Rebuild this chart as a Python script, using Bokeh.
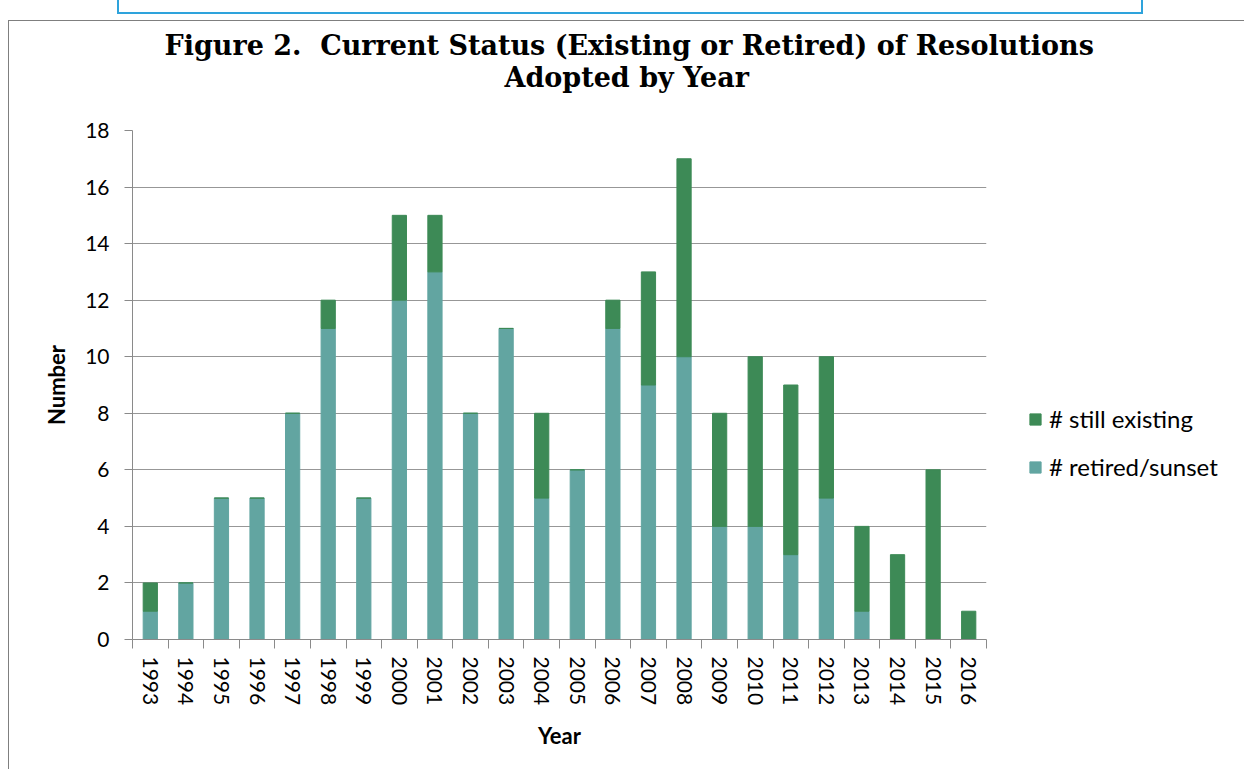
from bokeh.plotting import figure
from bokeh.models import FixedTicker, Legend, LegendItem, Title, ColumnDataSource
from bokeh.embed import file_html
from bokeh.resources import INLINE

# ---- data ----
years = [str(y) for y in range(1993, 2017)]
retired = [1, 2, 5, 5, 8, 11, 5, 12, 13, 8, 11, 5, 6, 11, 9, 10, 4, 4, 3, 5, 1, 0, 0, 0]
existing = [1, 0, 0, 0, 0, 1, 0, 3, 2, 0, 0, 3, 0, 1, 4, 7, 4, 6, 6, 5, 3, 3, 6, 1]
y_ticks = [0, 2, 4, 6, 8, 10, 12, 14, 16, 18]
series_names = ["# still existing", "# retired/sunset"]
title_lines = ["Figure 2.\u00a0 Current Status (Existing or Retired) of Resolutions",
               "Adopted by Year"]
x_title = "Year"
y_title = "Number"

GREEN = "#3d8a56"
TEAL = "#62a5a1"
GRID = "#979797"
AXIS = "#8a8a8a"
SANS = "Lato"

x_pos = list(range(len(years)))
source = ColumnDataSource(dict(x=x_pos, retired=retired, existing=existing))

box_css = """
:host { position: relative; }
:host::before {
  content: ""; position: absolute; left: 108px; top: -21px;
  width: 1022px; height: 12px;
  border: 2px solid #2ea3dc; border-top: none;
}
"""

p = figure(frame_width=854, frame_height=509, x_range=(-0.5, len(years) - 0.5), y_range=(0, 18),
           output_backend="svg", toolbar_location=None,
           min_border_left=123, min_border_right=250, min_border_top=109, min_border_bottom=130,
           outline_line_color=None, margin=(20, 0, 0, 8),
           styles={"border-left": "1px solid #7f7f7f", "border-top": "1px solid #7f7f7f"},
           stylesheets=[box_css])

rs = p.vbar_stack(["retired", "existing"], x="x", width=0.4, color=[TEAL, GREEN], source=source)

# grid
p.xgrid.visible = False
p.ygrid.grid_line_color = GRID
p.ygrid.grid_line_width = 1

# x axis
xa = p.xaxis[0]
xa.ticker = FixedTicker(ticks=x_pos, minor_ticks=[i - 0.5 for i in range(len(years) + 1)])
xa.major_label_overrides = {i: years[i] for i in x_pos}
xa.major_label_orientation = "vertical"
xa.major_tick_line_color = None
xa.major_tick_out = 9
xa.major_tick_in = 0
xa.minor_tick_out = 9
xa.minor_tick_in = 0
xa.minor_tick_line_color = AXIS
xa.axis_line_color = AXIS
xa.major_label_standoff = 8
xa.major_label_text_font = SANS
xa.major_label_text_font_size = "21px"
xa.major_label_text_color = "#000000"
xa.axis_label = x_title
xa.axis_label_text_font = SANS
xa.axis_label_text_font_size = "22px"
xa.axis_label_text_font_style = "bold"
xa.axis_label_text_color = "#000000"
xa.axis_label_standoff = 14

# y axis
ya = p.yaxis[0]
ya.ticker = FixedTicker(ticks=y_ticks)
ya.major_tick_out = 8
ya.major_tick_in = 0
ya.major_tick_line_color = AXIS
ya.minor_tick_line_color = None
ya.axis_line_color = AXIS
ya.major_label_standoff = 15
ya.major_label_text_font = SANS
ya.major_label_text_font_size = "21px"
ya.major_label_text_color = "#000000"
ya.axis_label = y_title
ya.axis_label_text_font = SANS
ya.axis_label_text_font_size = "22px"
ya.axis_label_text_font_style = "bold"
ya.axis_label_text_color = "#000000"
ya.axis_label_standoff = 12

# title: two lines, left aligned with pixel offsets so they sit as in the reference;
# the trailing empty line under the second line leaves the gap above the plot area
title_offsets = [32, 372]
title_standoffs = [0, 0]
title_texts = [title_lines[0], title_lines[1] + "\n"]
for line, off, so in zip(reversed(title_texts), reversed(title_offsets), reversed(title_standoffs)):
    p.add_layout(Title(text=line, align="left", offset=off,
                       text_font="DejaVu Serif", text_font_size="27px",
                       text_line_height=1.2,
                       text_font_style="bold", text_color="#000000", standoff=so), "above")

legend = Legend(items=[LegendItem(label=series_names[0], renderers=[rs[1]]),
                       LegendItem(label=series_names[1], renderers=[rs[0]])],
                location=(42, 158), orientation="vertical",
                glyph_width=14, glyph_height=14, label_standoff=7,
                label_text_font=SANS, label_text_font_size="24px",
                label_text_color="#000000", spacing=19, padding=0, margin=0,
                border_line_color=None, background_fill_alpha=0)
p.add_layout(legend, "right")

open("out.html", "w").write(file_html(p, INLINE))
